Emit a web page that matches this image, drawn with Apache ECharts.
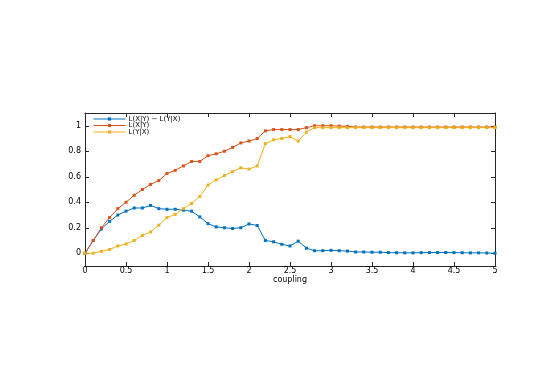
<!DOCTYPE html>
<html><head><meta charset="utf-8">
<script src="https://cdn.jsdelivr.net/npm/echarts@6/dist/echarts.min.js"></script>
<style>html,body{margin:0;padding:0;background:#fff}#c{width:545px;height:365px}</style>
</head><body><div id="c"></div>
<script>
const coupling = [0,0.1,0.2,0.3,0.4,0.5,0.6,0.7,0.8,0.9,1.0,1.1,1.2,1.3,1.4,1.5,1.6,1.7,1.8,1.9,2.0,2.1,2.2,2.3,2.4,2.5,2.6,2.7,2.8,2.9,3.0,3.1,3.2,3.3,3.4,3.5,3.6,3.7,3.8,3.9,4.0,4.1,4.2,4.3,4.4,4.5,4.6,4.7,4.8,4.9,5.0];
const diffXY = [0,0.10,0.19,0.25,0.30,0.33,0.355,0.355,0.375,0.35,0.345,0.345,0.338,0.33,0.285,0.232,0.207,0.20,0.194,0.20,0.23,0.218,0.10,0.09,0.07,0.057,0.095,0.04,0.02,0.02,0.023,0.02,0.017,0.01,0.01,0.008,0.008,0.005,0.004,0.003,0.003,0.005,0.005,0.006,0.006,0.005,0.004,0.003,0.003,0.002,0.0];
const LXgY = [0,0.10,0.20,0.28,0.35,0.40,0.455,0.50,0.54,0.57,0.625,0.65,0.685,0.72,0.72,0.765,0.78,0.80,0.83,0.865,0.88,0.90,0.96,0.97,0.97,0.97,0.97,0.985,1.0,1.0,1.0,0.997,0.995,0.99,0.99,0.99,0.99,0.99,0.99,0.99,0.99,0.99,0.99,0.99,0.99,0.99,0.99,0.99,0.99,0.99,0.99];
const LYgX = [0,0.0,0.015,0.03,0.057,0.073,0.10,0.14,0.167,0.22,0.28,0.305,0.35,0.39,0.445,0.535,0.575,0.61,0.64,0.67,0.66,0.685,0.86,0.89,0.90,0.915,0.88,0.95,0.985,0.985,0.985,0.985,0.985,0.985,0.985,0.985,0.985,0.985,0.985,0.985,0.985,0.985,0.985,0.985,0.985,0.985,0.985,0.985,0.985,0.985,0.985];
const seriesNames = ['L(X|Y) \u2212 L(Y|X)','L(X|Y)','L(Y|X)'];
const colors = ['#0072BD','#D95319','#EDB120'];
const yTicks = [0,0.2,0.4,0.6,0.8,1];

const font = 'DejaVu Sans, sans-serif';
const axisCol = '#262626';
function mk(name, vals, col){
  return {name, type:'line', data: coupling.map((x,i)=>[x, vals[i]]),
    symbol:'rect', symbolSize:3, showSymbol:true,
    lineStyle:{width:1, color:col}, itemStyle:{color:col},
    emphasis:{disabled:true}, animation:false};
}
function lg(name, top){
  return {left:93, top, orient:'vertical', itemWidth:32, itemHeight:4, itemGap:0,
    data:[name], lineStyle:{width:1}, itemStyle:{},
    textStyle:{fontSize:7, fontFamily:font, color:'#000', padding:[0,0,0,-2]},
    padding:0};
}
const chart = echarts.init(document.getElementById('c'));
chart.setOption({
  animation:false,
  grid:{left:85, right:50, top:113, bottom:99},
  legend:[lg(seriesNames[0],115.5), lg(seriesNames[1],122), lg(seriesNames[2],128.5)],
  xAxis:[{
    type:'value', min:0, max:5, interval:0.5, position:'bottom',
    name:'coupling', nameLocation:'middle', nameGap:8,
    nameTextStyle:{fontSize:8, fontFamily:font, color:'#000'},
    axisLine:{show:true, onZero:false, lineStyle:{color:axisCol, width:1}},
    axisTick:{show:true, inside:true, length:4, lineStyle:{color:axisCol}},
    axisLabel:{fontSize:8, fontFamily:font, color:'#000', margin:1},
    splitLine:{show:false}
  },{
    type:'value', min:0, max:5, interval:0.5, position:'top',
    axisLine:{show:true, onZero:false, lineStyle:{color:axisCol, width:1}},
    axisTick:{show:true, inside:true, length:4, lineStyle:{color:axisCol}},
    axisLabel:{show:false}, splitLine:{show:false}
  }],
  yAxis:[{
    type:'value', min:-0.1, max:1.1, position:'left',
    axisLine:{show:true, onZero:false, lineStyle:{color:axisCol, width:1}},
    axisTick:{show:true, inside:true, length:4, customValues:yTicks, lineStyle:{color:axisCol}},
    axisLabel:{fontSize:8, fontFamily:font, color:'#000', margin:4, customValues:yTicks},
    splitLine:{show:false}
  },{
    type:'value', min:-0.1, max:1.1, position:'right',
    axisLine:{show:true, onZero:false, lineStyle:{color:axisCol, width:1}},
    axisTick:{show:true, inside:true, length:4, customValues:yTicks, lineStyle:{color:axisCol}},
    axisLabel:{show:false}, splitLine:{show:false}
  }],
  series:[mk(seriesNames[0], diffXY, colors[0]), mk(seriesNames[1], LXgY, colors[1]), mk(seriesNames[2], LYgX, colors[2])]
});
</script></body></html>
